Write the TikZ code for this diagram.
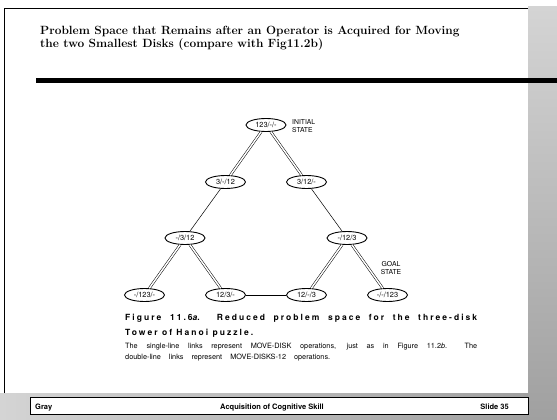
\documentclass[tikz,border=0pt]{standalone}
\usepackage{fontspec}
\usepackage{tikz}
\usetikzlibrary{shapes.geometric}
\newfontfamily\helv{TeX Gyre Heros}
\newfontfamily\helvsp[LetterSpace=24]{TeX Gyre Heros}
\definecolor{shdA}{RGB}{212,212,212}
\definecolor{shdB}{RGB}{160,160,160}
\tikzset{
  st/.style={draw, ellipse, line width=0.9pt, minimum width=40pt, minimum height=13pt, inner sep=0pt, font=\helv\fontsize{7.4}{8}\selectfont},
  dbl/.style={double, double distance=1.5pt, line width=0.5pt},
  sgl/.style={line width=0.5pt},
  lbl/.style={font=\helv\fontsize{6.8}{8.5}\selectfont, inner sep=0pt},
  captxt/.style={anchor=base west, inner sep=0pt},
  foot/.style={font=\helv\bfseries\fontsize{7.5}{9}\selectfont, inner sep=0pt, anchor=base}
}

\begin{document}
\begin{tikzpicture}[x=1pt, y=-1pt]
  \useasboundingbox (0,0) rectangle (557,420);
  % slide frame and shadow
  \shade[top color=shdA, bottom color=shdB] (528,7) rectangle (557,420);
  \shade[left color=shdA, right color=shdB] (0,393) rectangle (528,420);
  \draw[line width=0.8pt] (4,393) -- (4,8) -- (528,8);
  \fill (36,78) rectangle (557,83);
  \node[anchor=base west, align=left, inner sep=0pt, font=\bfseries\fontsize{11.9}{13.5}\selectfont] (title) at (40,48)
    {Problem Space that Remains after an Operator is Acquired for Moving\\the two Smallest Disks (compare with Fig11.2b)};
  % states
  \node[st] (n1) at (266,125) {123/-/-};
  \node[st] (n2) at (225.5,182) {3/-/12};
  \node[st] (n3) at (306.5,182) {3/12/-};
  \node[st] (n4) at (185,238) {-/3/12};
  \node[st] (n5) at (347,238) {-/12/3};
  \node[st] (n6) at (144.5,295) {-/123/-};
  \node[st] (n7) at (225.5,295) {12/3/-};
  \node[st] (n8) at (306.5,295) {12/-/3};
  \node[st] (n9) at (387.5,295) {-/-/123};
  \foreach \a/\b in {n1/n2,n1/n3,n2/n3,n4/n6,n4/n7,n6/n7,n5/n8,n5/n9,n8/n9}
    \draw[dbl] (\a) -- (\b);
  \foreach \a/\b in {n2/n4,n3/n5,n7/n8}
    \draw[sgl] (\a) -- (\b);
  \node[lbl, anchor=west, align=left] (init) at (292,126) {INITIAL\\STATE};
  \node[lbl, align=center] (goal) at (391,268) {GOAL\\STATE};
  % caption
  \node[captxt, font=\helvsp\bfseries\fontsize{8.5}{9}\selectfont] (fig) at (125,320)
    {\makebox[352pt][s]{Figure 11.6\textit{a}.\ \ Reduced problem space for the three-disk}};
  \node[captxt, font=\helvsp\bfseries\fontsize{8.5}{9}\selectfont] (fig2) at (125,335) {Tower of Hanoi puzzle.};
  \node[captxt, font=\helv\fontsize{7.3}{8}\selectfont] (txt1) at (125,348)
    {\makebox[352pt][s]{The single-line links represent MOVE-DISK operations, just as in Figure 11.2\textit{b}.\ \ The}};
  \node[captxt, font=\helv\fontsize{7.3}{8}\selectfont] (txt2) at (125,359)
    {\makebox[205pt][s]{double-line links represent MOVE-DISKS-12 operations.}};
  % footer
  \draw[fill=white, line width=0.8pt] (30,397) rectangle (528,414);
  \node[foot, anchor=base west] (who) at (35,409) {Gray};
  \node[foot] (course) at (272,409) {Acquisition of Cognitive Skill};
  \node[foot, anchor=base east] (slide) at (509,409) {Slide 35};
\end{tikzpicture}
\end{document}
